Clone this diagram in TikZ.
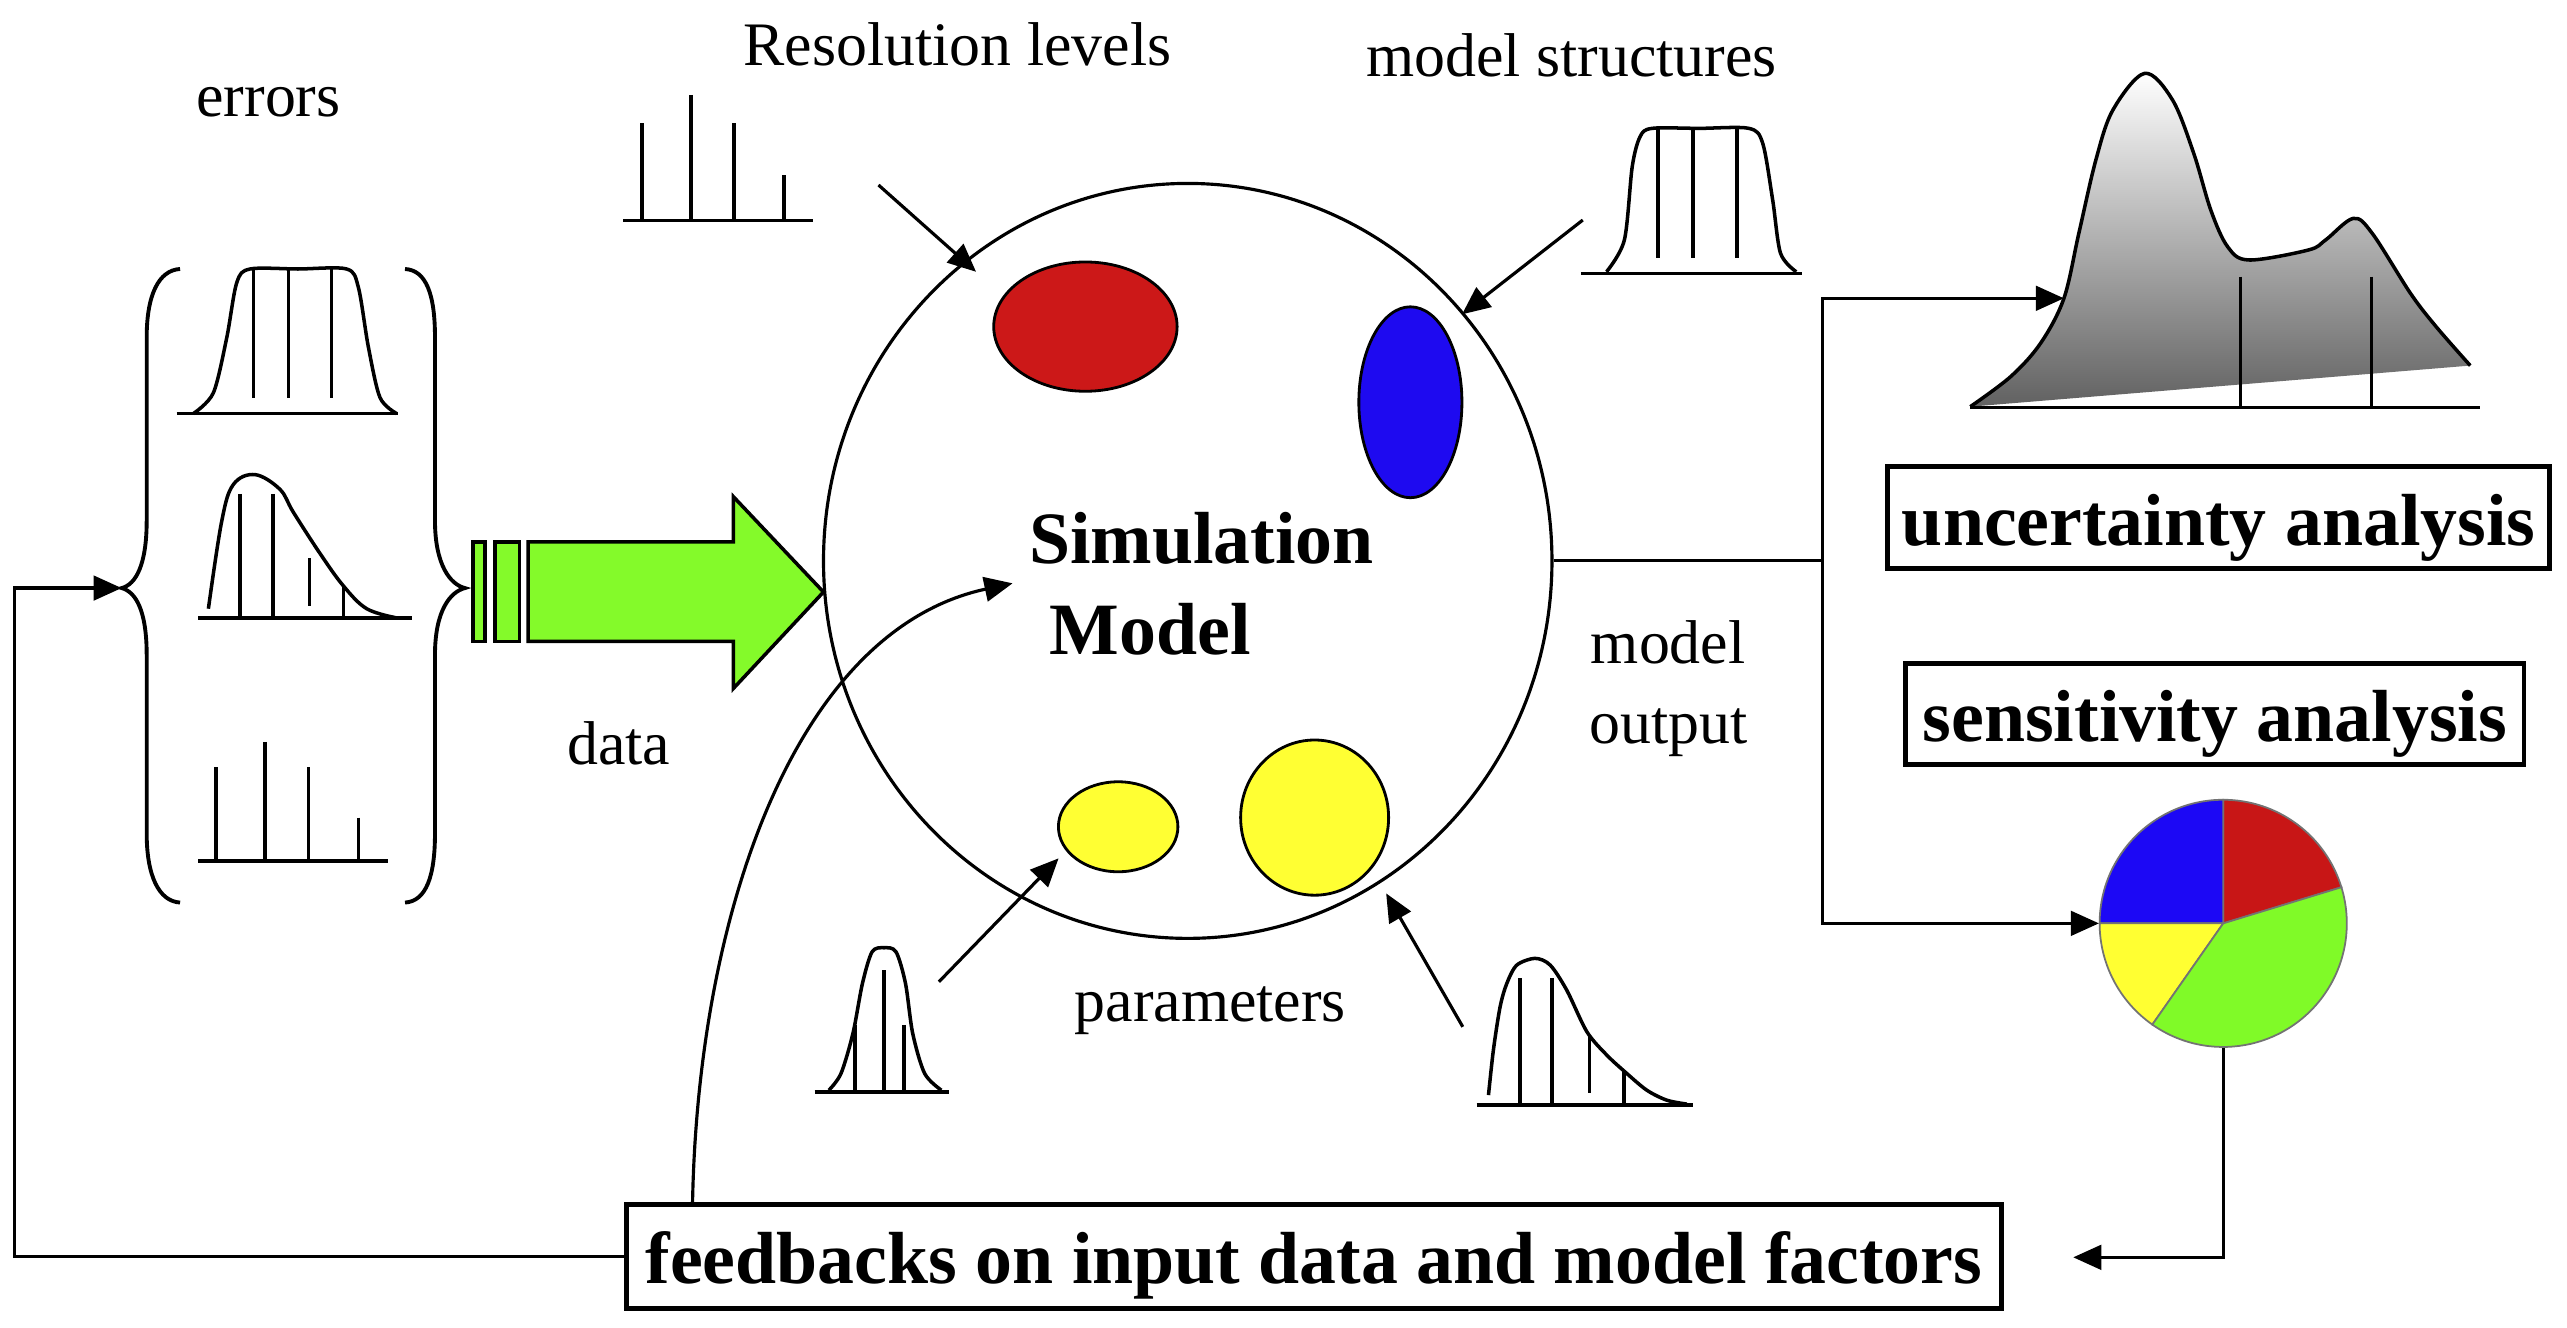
\documentclass[tikz,border=0pt]{standalone}
\usepackage{fontspec}
\setmainfont{Liberation Serif}
\usetikzlibrary{arrows.meta,shapes.geometric}
\definecolor{cLime}{RGB}{132,250,42}
\definecolor{cRed}{RGB}{204,24,24}
\definecolor{cBlue}{RGB}{30,10,240}
\definecolor{cYel}{RGB}{255,255,51}
\definecolor{pRed}{RGB}{200,22,22}
\definecolor{pBlue}{RGB}{28,8,245}
\definecolor{pGreen}{RGB}{128,250,40}
\definecolor{pYel}{RGB}{255,255,50}
\begin{document}
\begin{tikzpicture}[x=0.016371cm,y=-0.016371cm,
  ln/.style={line width=0.9pt},
  arr/.style={line width=0.9pt,-{Triangle[length=8pt,width=7pt]}},
  dist/.style={line width=1pt,line join=round},
  lbl/.style={font=\fontsize{17.6}{21}\selectfont,inner sep=0pt,anchor=base},
  blbl/.style={font=\fontsize{21}{25}\selectfont\bfseries,inner sep=0pt,anchor=base},
  abox/.style={draw,line width=1.4pt,inner sep=0pt,font=\fontsize{21}{25}\selectfont\bfseries,text depth=0.229cm,text height=0.786cm},
  blob/.style={ellipse,draw,line width=0.8pt,inner sep=0pt},
  grn/.style={fill=cLime,draw=black,line width=1pt,line join=miter},
  slice/.style={draw=black!55,line width=0.5pt}
]
\useasboundingbox (0,0) rectangle (1568,810.6);
\fill[white] (0,0) rectangle (1568,810.6);

% ---------- labels ----------
\node[lbl] (tErr) at (164,71) {errors};
\node[lbl] (tRes) at (584.8,39.7) {Resolution levels};
\node[lbl] (tMS) at (960,46.8) {model structures};
\node[lbl] (tData) at (378,467) {data};
\node[lbl] (tMod) at (1019,405) {model};
\node[lbl] (tOut) at (1019,454) {output};
\node[lbl] (tPar) at (739.3,624) {parameters};

% ---------- braces ----------
\draw[line width=1.1pt] (110,164.3) .. controls (97,165) and (89.6,180) .. (89.6,206) -- (89.6,318)
  .. controls (89.6,345) and (83,357) .. (74.3,359.2) .. controls (83,361.5) and (89.6,373) .. (89.6,400)
  -- (89.6,509) .. controls (89.6,535) and (97,550.5) .. (110,551.3);
\draw[line width=1.1pt] (247.4,164.3) .. controls (260.4,165) and (265.7,180) .. (265.7,206) -- (265.7,318)
  .. controls (265.7,345) and (275,357) .. (284,359.2) .. controls (275,361.5) and (265.7,373) .. (265.7,400)
  -- (265.7,509) .. controls (265.7,535) and (260.4,550.5) .. (247.4,551.3);

% ---------- error distributions ----------
\draw[dist] (107.9,252.6) -- (243.3,252.6);
\draw[dist] plot[smooth,tension=0.5] coordinates {(118.1,252.6) (130.3,240) (138.5,206.3) (144.6,172.7) (152.7,164.3) (182,164.3) (211.8,164.3) (218.9,175.5) (225,211.9) (232.1,242.8) (242.3,252.6)};
\foreach \xx in {154.8,176.1,202.6} \draw[dist] (\xx,164.3) -- (\xx,242.8);

\draw[dist] (121.2,377.4) -- (251.5,377.4);
\draw[dist] plot[smooth,tension=0.6] coordinates {(127.3,371.8) (135.4,318.5) (142.5,296) (155.8,289.9) (171,298.9) (179.2,312.9) (195.5,338.1) (209.7,357.8) (224,371.8) (242.3,377.4)};
\draw[dist] (146.6,301.7) -- (146.6,377.4);
\draw[dist] (166.6,301.7) -- (166.6,378.8);
\draw[dist] (189,340.9) -- (189,370.4);
\draw[dist] (209.7,357.8) -- (209.7,377.4);

\draw[dist] (121.2,526) -- (237.2,526);
\draw[dist] (132,468.5) -- (132,526);
\draw[dist] (161.9,453.1) -- (161.9,526);
\draw[dist] (188.4,468.5) -- (188.4,526);
\draw[dist] (218.9,499.4) -- (218.9,526);

% ---------- data arrow ----------
\filldraw[grn] (289,331) rectangle (296.4,391.7);
\filldraw[grn] (302.4,331) rectangle (317.2,391.7);
\filldraw[grn] (322.6,331) -- (448,331) -- (448,303.4) -- (503,361.6) -- (448,420.5) -- (448,391.7) -- (322.6,391.7) -- cycle;

% ---------- simulation model ----------
\node[ellipse,draw,line width=0.9pt,minimum width=7.285cm,minimum height=7.550cm,inner sep=0pt] (circ) at (725.5,342.6) {};
\node[blob,fill=cRed,minimum width=1.834cm,minimum height=1.293cm] (red) at (663,199.5) {};
\node[blob,fill=cBlue,minimum width=1.031cm,minimum height=1.909cm] (blue) at (861.5,245.7) {};
\node[blob,fill=cYel,minimum width=1.195cm,minimum height=0.900cm] (ys) at (683,505) {};
\node[blob,fill=cYel,minimum width=1.480cm,minimum height=1.552cm] (yb) at (803,499.4) {};
\node[blbl] (tSim) at (734,344) {Simulation};
\node[blbl] (tModel) at (702.7,400) {Model};

% ---------- resolution levels ----------
\draw[dist] (380.6,134.8) -- (496.3,134.8);
\draw[dist] (392.2,75.3) -- (392.2,134.8);
\draw[dist] (422,58) -- (422,134.8);
\draw[dist] (448.3,75.3) -- (448.3,134.8);
\draw[dist] (478.8,106.9) -- (478.8,134.8);
\coordinate (rsA) at (536.6,113);
\coordinate (rsB) at (596.2,166);
\draw[arr] (rsA) -- (rsB);

% ---------- model structures ----------
\draw[dist] (965.6,167) -- (1100.9,167);
\draw[dist] plot[smooth,tension=0.5] coordinates {(981.3,166) (992.2,146.6) (997,101.8) (1001.8,83.5) (1009.1,78.4) (1038,78.4) (1068.3,78.4) (1076.7,87.5) (1082.8,122.2) (1087.6,154.7) (1097.2,166)};
\foreach \xx in {1012.7,1034,1061} \draw[dist] (\xx,78.9) -- (\xx,157.8);
\coordinate (msA) at (966.8,134.4);
\coordinate (msB) at (893,192);
\draw[arr] (msA) -- (msB);

% ---------- parameters ----------
\draw[dist] (497.6,666.9) -- (579.4,666.9);
\draw[dist] plot[smooth,tension=0.5] coordinates {(506.3,665.9) (513.7,655.7) (521,631.2) (526.8,600.7) (532.7,581.4) (540,578.9) (547.3,581.4) (553.1,600.7) (557.5,631.2) (564.8,655.7) (575,665.9)};
\draw[dist] (522.4,626) -- (522.4,666.9);
\draw[dist] (540,592.5) -- (540,666.9);
\draw[dist] (552.2,626) -- (552.2,666.9);
\coordinate (paA) at (573.5,599.7);
\coordinate (paB) at (646.6,524.3);
\draw[arr] (paA) -- (paB);

\draw[dist] (902,675) -- (1034.4,675);
\draw[dist] plot[smooth,tension=0.5] coordinates {(909.2,668.9) (912.2,641.4) (916.3,615) (920.4,600.7) (926.5,589.5) (937.7,585.4) (946.9,589.5) (957,604.8) (969.3,630.2) (981.5,644.5) (993.7,655.7) (1005.9,665.9) (1018.1,672) (1030.4,674.4)};
\draw[dist] (928.5,597.6) -- (928.5,675);
\draw[dist] (947.9,597.6) -- (947.9,676);
\draw[dist] (970.9,633.3) -- (970.9,667.9);
\draw[dist] (992,654.7) -- (992,675);
\coordinate (pbA) at (893.5,627.2);
\coordinate (pbB) at (846.7,545.7);
\draw[arr] (pbA) -- (pbB);

% ---------- uncertainty distribution ----------
\shade[top color=white,bottom color=black!62] plot[smooth,tension=0.55] coordinates {(1203.5,248.4) (1228.2,230) (1246.4,209.7) (1260.7,182.2) (1269.8,142.5) (1280.2,97.7) (1290.6,67.2) (1310,44.8) (1327,61) (1340,93.7) (1350.4,128.3) (1360.7,150.7) (1373.7,158.8) (1410,152.7) (1420.5,146.6) (1437.4,133.4) (1449,142.5) (1472.4,179.2) (1488.1,199.6) (1508.9,223.3)} -- cycle;
\draw[dist] plot[smooth,tension=0.55] coordinates {(1203.5,248.4) (1228.2,230) (1246.4,209.7) (1260.7,182.2) (1269.8,142.5) (1280.2,97.7) (1290.6,67.2) (1310,44.8) (1327,61) (1340,93.7) (1350.4,128.3) (1360.7,150.7) (1373.7,158.8) (1410,152.7) (1420.5,146.6) (1437.4,133.4) (1449,142.5) (1472.4,179.2) (1488.1,199.6) (1508.9,223.3)};
\draw[dist] (1203.5,249) -- (1515,249);
\draw[dist] (1368.5,169) -- (1368.5,249);
\draw[dist] (1448.6,169) -- (1448.6,249);

% ---------- boxes ----------
\node[abox,minimum width=6.622cm,minimum height=1.015cm] (ua) at (1355.25,316) {uncertainty analysis};
\node[abox,minimum width=6.183cm,minimum height=1.015cm] (sa) at (1352.9,436) {sensitivity analysis};
\node[abox,minimum width=13.758cm,minimum height=1.031cm,text depth=0.246cm] (fb) at (802.6,767.5) {feedbacks on input data and model factors};

% ---------- pie ----------
\node[circle,minimum size=2.472cm,inner sep=0pt] (pie) at (1358,564) {};
\filldraw[slice,fill=pRed] (pie.center) -- ++(17:1.236cm) arc[start angle=17,end angle=90,radius=1.236cm] -- cycle;
\filldraw[slice,fill=pBlue] (pie.center) -- ++(90:1.236cm) arc[start angle=90,end angle=180,radius=1.236cm] -- cycle;
\filldraw[slice,fill=pYel] (pie.center) -- ++(180:1.236cm) arc[start angle=180,end angle=235,radius=1.236cm] -- cycle;
\filldraw[slice,fill=pGreen] (pie.center) -- ++(235:1.236cm) arc[start angle=235,end angle=377,radius=1.236cm] -- cycle;

% ---------- connectors ----------
\coordinate (J) at (1113,342.6);
\coordinate (ut) at (1260.7,182.2);
\draw[ln] (circ.east) -- (J);
\draw[arr] (J) |- (ut);
\draw[arr] (J) |- (pie.west);

\coordinate (fbt) at (1266.4,768);
\draw[arr] (pie.south) |- (fbt);

\coordinate (lc) at (9.1,767.5);
\coordinate (btip) at (74.3,359.2);
\draw[arr] (fb.west) -- (lc) |- (btip);

\coordinate (cs) at (423,736);
\coordinate (ctip) at (618.5,356.3);
\draw[arr] (cs) .. controls (426,560) and (485,385) .. (ctip);
\end{tikzpicture}
\end{document}
